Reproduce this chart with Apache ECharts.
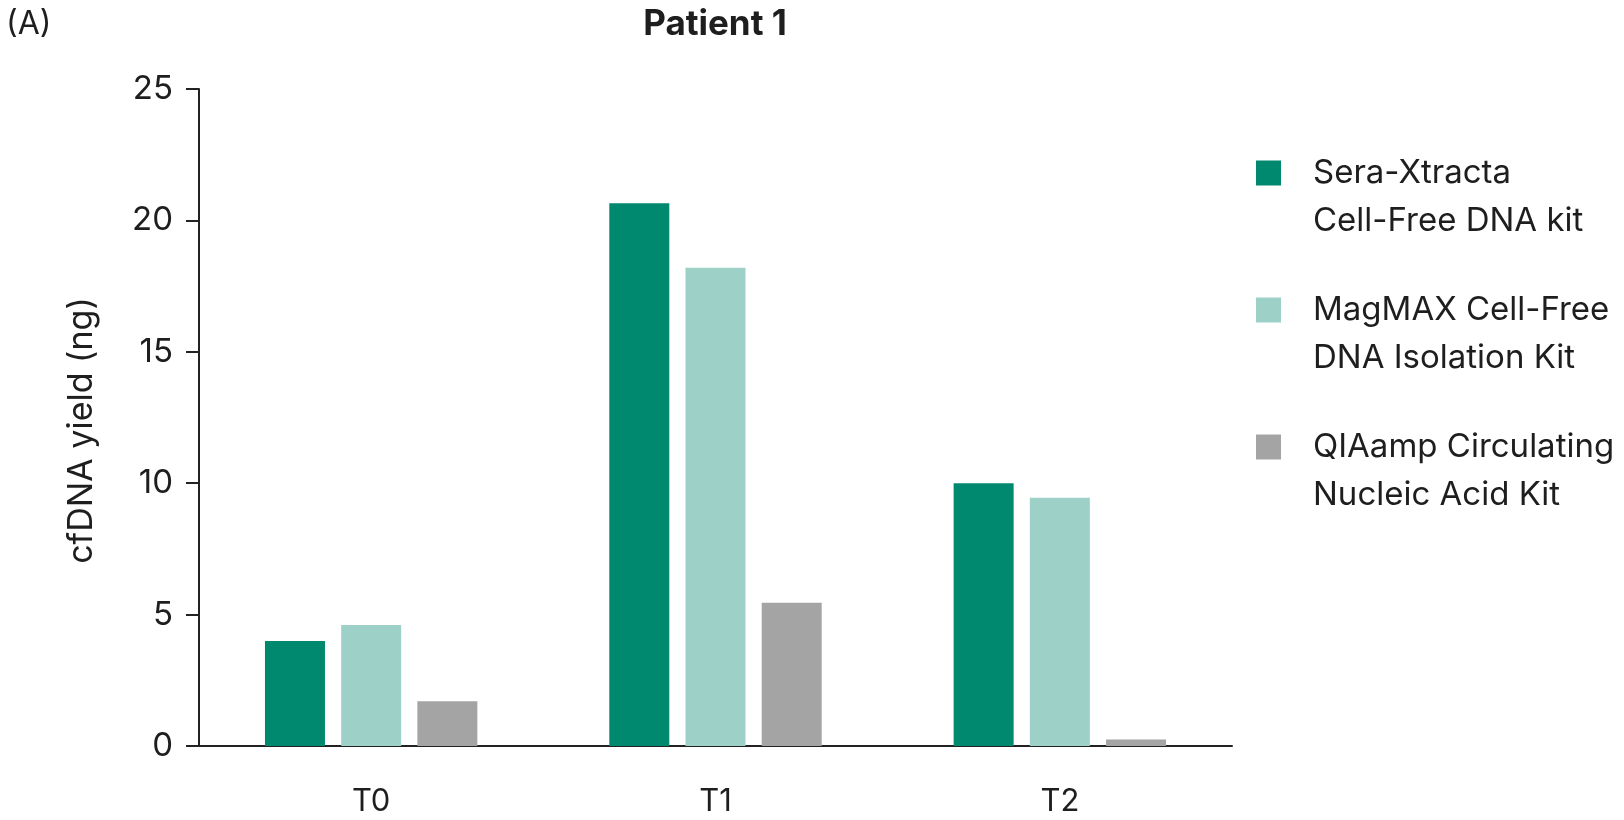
<!DOCTYPE html>
<html>
<head>
<meta charset="utf-8">
<script src="https://cdn.jsdelivr.net/npm/echarts@6/dist/echarts.min.js"></script>
<style>html,body{margin:0;padding:0;background:#fff;}#c{width:1624px;height:820px;}</style>
</head>
<body>
<div id="c"></div>
<script>
const categories = ['T0', 'T1', 'T2'];
const seriesNames = ['Sera-Xtracta\nCell-Free DNA kit', 'MagMAX Cell-Free\nDNA Isolation Kit', 'QIAamp Circulating\nNucleic Acid Kit'];
const seraXtracta = [4.0, 20.65, 10.0];
const magMAX = [4.6, 18.2, 9.45];
const qiaamp = [1.7, 5.45, 0.25];
const yTicks = [0, 5, 10, 15, 20, 25];
const colors = ['#00896f', '#9dd0c7', '#a4a4a5'];

const font = 'Inter, "Liberation Sans", sans-serif';
const chart = echarts.init(document.getElementById('c'), null, {renderer: 'canvas'});
const values = [seraXtracta, magMAX, qiaamp];
chart.setOption({
  animation: false,
  backgroundColor: '#ffffff',
  title: [
    {text: 'Patient 1', left: 710, top: 2, textAlign: 'center',
     textStyle: {fontFamily: font, fontSize: 35, fontWeight: 'bold', color: '#1e1e1e'}},
    {text: '(A)', left: 1, top: 3,
     textStyle: {fontFamily: font, fontSize: 32, fontWeight: 'normal', color: '#1e1e1e'}}
  ],
  grid: {left: 199, right: 392, top: 89, bottom: 74, containLabel: false},
  legend: {
    orient: 'vertical', left: 1256, top: 101, padding: 0,
    itemWidth: 25, itemHeight: 25, itemGap: -7, icon: 'rect',
    selectedMode: false,
    formatter: function (name) { return '\n' + name; },
    textStyle: {fontFamily: font, fontSize: 33, color: '#1e1e1e', lineHeight: 48, padding: [0, 0, 0, 27]},
    data: seriesNames
  },
  xAxis: {
    type: 'category', data: categories,
    axisLine: {lineStyle: {color: '#222', width: 2}},
    axisTick: {show: false},
    axisLabel: {fontFamily: font, fontSize: 31, color: '#1e1e1e', margin: 40}
  },
  yAxis: {
    type: 'value', min: yTicks[0], max: yTicks[yTicks.length - 1], interval: 5,
    name: 'cfDNA yield (ng)', nameLocation: 'middle', nameGap: 100,
    nameTextStyle: {fontFamily: font, fontSize: 34, color: '#1e1e1e', padding: [0, 26, 0, 0]},
    axisLine: {show: true, lineStyle: {color: '#222', width: 2}},
    axisTick: {show: true, length: 13, lineStyle: {color: '#222', width: 2}},
    splitLine: {show: false},
    axisLabel: {fontFamily: font, fontSize: 33, color: '#1e1e1e', margin: 26}
  },
  series: seriesNames.map((n, i) => ({
    name: n, type: 'bar', data: values[i], barWidth: 60, barGap: '27%',
    itemStyle: {color: colors[i]}
  }))
});
</script>
</body>
</html>
